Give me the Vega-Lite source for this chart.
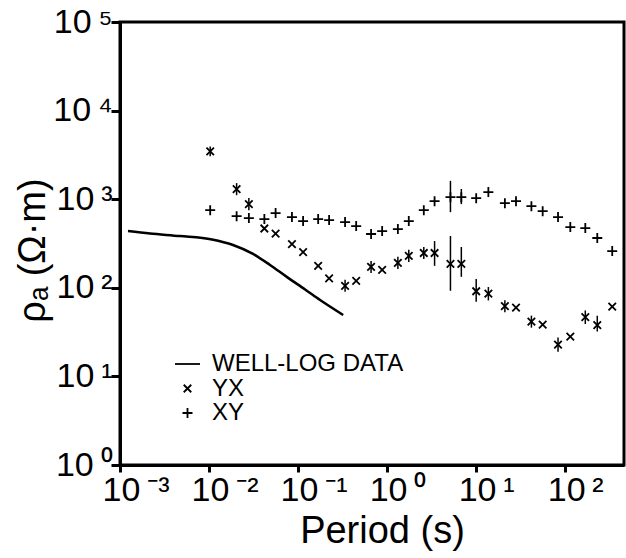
{
  "$schema": "https://vega.github.io/schema/vega-lite/v6.json",
  "width": 504,
  "height": 443,
  "autosize": "none",
  "padding": {"left": 120, "top": 22, "right": 2, "bottom": 93},
  "background": "white",
  "config": {
    "font": "Liberation Sans",
    "view": {"stroke": "black", "strokeWidth": 3},
    "axis": {
      "grid": false,
      "domainColor": "black",
      "domainWidth": 3,
      "tickColor": "black",
      "tickWidth": 3,
      "tickSize": 8,
      "labelColor": "black",
      "labelFont": "Liberation Sans",
      "labelFontSize": 34,
      "titleColor": "black",
      "titleFont": "Liberation Sans",
      "titleFontWeight": "normal",
      "titleFontSize": 38
    }
  },
  "data": {
    "values": [
      {"series": "WELL-LOG DATA", "period": 0.00123, "rho": 438},
      {"series": "WELL-LOG DATA", "period": 0.00217, "rho": 410},
      {"series": "WELL-LOG DATA", "period": 0.00472, "rho": 384},
      {"series": "WELL-LOG DATA", "period": 0.0108, "rho": 351},
      {"series": "WELL-LOG DATA", "period": 0.0186, "rho": 304},
      {"series": "WELL-LOG DATA", "period": 0.0312, "rho": 241},
      {"series": "WELL-LOG DATA", "period": 0.0484, "rho": 181},
      {"series": "WELL-LOG DATA", "period": 0.0752, "rho": 132},
      {"series": "WELL-LOG DATA", "period": 0.12, "rho": 95.7},
      {"series": "WELL-LOG DATA", "period": 0.1766, "rho": 72.8},
      {"series": "WELL-LOG DATA", "period": 0.321, "rho": 49.3},

      {"series": "XY", "period": 0.0103, "rho": 752},
      {"series": "XY", "period": 0.0204, "rho": 644},
      {"series": "XY", "period": 0.028, "rho": 612},
      {"series": "XY", "period": 0.0418, "rho": 596},
      {"series": "XY", "period": 0.0559, "rho": 697},
      {"series": "XY", "period": 0.0853, "rho": 628},
      {"series": "XY", "period": 0.1138, "rho": 566},
      {"series": "XY", "period": 0.168, "rho": 596},
      {"series": "XY", "period": 0.223, "rho": 581},
      {"series": "XY", "period": 0.337, "rho": 552},
      {"series": "XY", "period": 0.449, "rho": 498},
      {"series": "XY", "period": 0.66, "rho": 405},
      {"series": "XY", "period": 0.879, "rho": 437},
      {"series": "XY", "period": 1.32, "rho": 460},
      {"series": "XY", "period": 1.75, "rho": 566},
      {"series": "XY", "period": 2.58, "rho": 752},
      {"series": "XY", "period": 3.41, "rho": 950},
      {"series": "XY", "period": 5.14, "rho": 1054, "lo": 714, "hi": 1611},
      {"series": "XY", "period": 6.81, "rho": 1054, "lo": 879, "hi": 1303},
      {"series": "XY", "period": 10, "rho": 1027},
      {"series": "XY", "period": 13.7, "rho": 1203},
      {"series": "XY", "period": 21, "rho": 901},
      {"series": "XY", "period": 28, "rho": 950},
      {"series": "XY", "period": 41.7, "rho": 834},
      {"series": "XY", "period": 55.8, "rho": 733},
      {"series": "XY", "period": 83, "rho": 628},
      {"series": "XY", "period": 114, "rho": 484},
      {"series": "XY", "period": 168, "rho": 472},
      {"series": "XY", "period": 229, "rho": 365},
      {"series": "XY", "period": 337, "rho": 260},

      {"series": "YX", "period": 0.0103, "rho": 3467, "lo": 3050, "hi": 3940},
      {"series": "YX", "period": 0.0204, "rho": 1303, "lo": 1110, "hi": 1520},
      {"series": "YX", "period": 0.028, "rho": 879, "lo": 750, "hi": 1030},
      {"series": "YX", "period": 0.0418, "rho": 467},
      {"series": "YX", "period": 0.0559, "rho": 409},
      {"series": "YX", "period": 0.0853, "rho": 312},
      {"series": "YX", "period": 0.1138, "rho": 253},
      {"series": "YX", "period": 0.168, "rho": 177},
      {"series": "YX", "period": 0.223, "rho": 128},
      {"series": "YX", "period": 0.337, "rho": 105, "lo": 90, "hi": 123},
      {"series": "YX", "period": 0.449, "rho": 120},
      {"series": "YX", "period": 0.66, "rho": 172, "lo": 147, "hi": 201},
      {"series": "YX", "period": 0.879, "rho": 159},
      {"series": "YX", "period": 1.32, "rho": 191, "lo": 163, "hi": 224},
      {"series": "YX", "period": 1.75, "rho": 229, "lo": 196, "hi": 268},
      {"series": "YX", "period": 2.58, "rho": 247, "lo": 211, "hi": 289},
      {"series": "YX", "period": 3.41, "rho": 247, "lo": 177, "hi": 337},
      {"series": "YX", "period": 5.14, "rho": 186, "lo": 92.5, "hi": 384},
      {"series": "YX", "period": 6.81, "rho": 186, "lo": 133, "hi": 289},
      {"series": "YX", "period": 10, "rho": 91.4, "lo": 69.7, "hi": 126},
      {"series": "YX", "period": 13.7, "rho": 85.7, "lo": 72, "hi": 102},
      {"series": "YX", "period": 21, "rho": 62, "lo": 53, "hi": 72.5},
      {"series": "YX", "period": 28, "rho": 59.6},
      {"series": "YX", "period": 41.7, "rho": 41.5, "lo": 35.5, "hi": 48.5},
      {"series": "YX", "period": 55.8, "rho": 38.4},
      {"series": "YX", "period": 83, "rho": 22.9, "lo": 19, "hi": 27.5},
      {"series": "YX", "period": 114, "rho": 28.1},
      {"series": "YX", "period": 168, "rho": 46.6, "lo": 39, "hi": 55.5},
      {"series": "YX", "period": 229, "rho": 37.9, "lo": 32.1, "hi": 48.4},
      {"series": "YX", "period": 337, "rho": 61.2}
    ]
  },
  "encoding": {
    "x": {
      "field": "period",
      "type": "quantitative",
      "scale": {"type": "log", "domain": [0.001, 457], "nice": false},
      "axis": {
        "values": [0.001, 0.01, 0.1, 1, 10, 100],
        "labelExpr": "['10\u2009⁻³','10\u2009⁻²','10\u2009⁻¹','10\u2009⁰','10\u2009¹','10\u2009²'][round(log(datum.value)/LN10)+3]",
        "labelAlign": "left",
        "labelOffset": -18,
        "labelPadding": 1,
        "labelFlush": false,
        "labelOverlap": false,
        "tickSize": 7,
        "title": "Period (s)",
        "titleX": 262,
        "titleY": 77,
        "titleAlign": "center",
        "titleBaseline": "alphabetic"
      }
    },
    "y": {
      "field": "rho",
      "type": "quantitative",
      "scale": {"type": "log", "domain": [1, 100000], "nice": false},
      "axis": {
        "values": [1, 10, 100, 1000, 10000, 100000],
        "labelExpr": "['10\u2009⁰','10\u2009¹','10\u2009²','10\u2009³','10\u2009⁴','10\u2009⁵'][round(log(datum.value)/LN10)]",
        "labelPadding": -1,
        "labelFlush": false,
        "labelOverlap": false,
        "labelBaseline": "middle",
        "tickSize": 9,
        "title": "ρₐ (Ω·m)",
        "titleX": -87,
        "titleY": 228,
        "titleAngle": -90,
        "titleAlign": "center",
        "titleBaseline": "middle"
      }
    }
  },
  "layer": [
    {
      "transform": [{"filter": "datum.series === 'WELL-LOG DATA'"}],
      "mark": {"type": "line", "color": "black", "strokeWidth": 2.5, "interpolate": "monotone"}
    },
    {
      "transform": [{"filter": "isValid(datum.lo)"}],
      "mark": {"type": "rule", "color": "black", "strokeWidth": 1.5},
      "encoding": {
        "y": {"field": "lo", "type": "quantitative"},
        "y2": {"field": "hi"}
      }
    },
    {
      "transform": [{"filter": "datum.series !== 'WELL-LOG DATA'"}],
      "mark": {"type": "point", "filled": false, "color": "black", "strokeWidth": 1.8, "size": 100, "opacity": 1},
      "encoding": {
        "shape": {
          "field": "series",
          "type": "nominal",
          "scale": {
            "domain": ["WELL-LOG DATA", "YX", "XY"],
            "range": ["M-2.5,0L2.5,0", "M-0.75,-0.75L0.75,0.75M0.75,-0.75L-0.75,0.75", "M-1,0L1,0M0,-1L0,1"]
          },
          "legend": {
            "title": null,
            "orient": "none",
            "legendX": 55.5,
            "legendY": 330,
            "padding": 0,
            "rowPadding": 0.5,
            "labelFontSize": 24,
            "labelFont": "Liberation Sans",
            "labelColor": "black",
            "labelLimit": 0,
            "labelOffset": 12.5,
            "symbolSize": 100,
            "symbolStrokeColor": "black",
            "symbolFillColor": "transparent",
            "symbolStrokeWidth": 1.8,
            "symbolOpacity": 1,
            "encode": {
              "symbols": {
                "update": {
                  "strokeWidth": {"signal": "datum.value === 'WELL-LOG DATA' ? 3 : 1.6"}
                }
              }
            }
          }
        }
      }
    }
  ]
}
